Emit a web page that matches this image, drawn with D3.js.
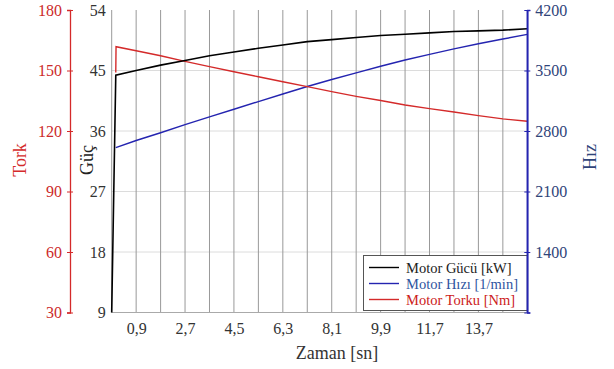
<!DOCTYPE html>
<html><head><meta charset="utf-8">
<script src="https://cdn.jsdelivr.net/npm/d3@7"></script>
</head><body style="margin:0;background:#fff">
<script>
// Data
const time      = [0, 0.15, 0.9, 1.8, 2.7, 3.6, 4.5, 5.4, 6.3, 7.2, 8.1, 9.0, 9.9, 10.8, 11.7, 12.6, 13.5, 14.4, 15.3];
const power     = [9, 44.3, 45.0, 45.8, 46.5, 47.2, 47.75, 48.3, 48.8, 49.3, 49.6, 49.9, 50.2, 50.4, 50.6, 50.8, 50.9, 51.0, 51.2];
const timeS     = [0.15, 0.9, 1.8, 2.7, 3.6, 4.5, 5.4, 6.3, 7.2, 8.1, 9.0, 9.9, 10.8, 11.7, 12.6, 13.5, 14.4, 15.3];
const speed     = [2607, 2690, 2780, 2874, 2963, 3052, 3140, 3228, 3315, 3396, 3473, 3549, 3621, 3687, 3750, 3809, 3864, 3918];
const timeT     = [0.15, 0.16, 0.9, 1.8, 2.7, 3.6, 4.5, 5.4, 6.3, 7.2, 8.1, 9.0, 9.9, 10.8, 11.7, 12.6, 13.5, 14.4, 15.3];
const torque    = [149, 161.8, 159.8, 157.3, 154.5, 151.9, 149.4, 146.9, 144.4, 142.0, 139.5, 137.2, 135.1, 132.9, 131.1, 129.4, 127.6, 126.0, 124.8];
const xTickVals   = [0.9, 2.7, 4.5, 6.3, 8.1, 9.9, 11.7, 13.5];
const xTickLabels = ["0,9", "2,7", "4,5", "6,3", "8,1", "9,9", "11,7", "13,7"];
const xGrid       = [0.9, 1.8, 2.7, 3.6, 4.5, 5.4, 6.3, 7.2, 8.1, 9.0, 9.9, 10.8, 11.7, 12.6, 13.5, 14.4];
const powerTicks  = [9, 18, 27, 36, 45, 54];
const torqueTicks = [30, 60, 90, 120, 150, 180];
const speedTicks  = [700, 1400, 2100, 2800, 3500, 4200];
const seriesNames = ["Motor Gücü [kW]", "Motor Hızı [1/min]", "Motor Torku [Nm]"];

const W = 614, H = 369;
const L = 111.7, R = 527.3, T = 10, B = 312.5;
const cRed = "#d42a2a", cBlue = "#2424b0", cBlueText = "#2f4479", cRedText = "#cc2a2a";

const svg = d3.select("body").append("svg").attr("width", W).attr("height", H)
  .attr("font-family", "Liberation Serif").style("display", "block");
const x = d3.scaleLinear().domain([0, 15.3]).range([L, R]);
const yP = d3.scaleLinear().domain([9, 54]).range([B, T]);
const yT = d3.scaleLinear().domain([30, 180]).range([B, T]);
const yS = d3.scaleLinear().domain([700, 4200]).range([B, T]);

// horizontal grid
svg.append("g").selectAll("line").data(powerTicks.slice(1, -1)).join("line")
  .attr("x1", L).attr("x2", R).attr("y1", d => yP(d)).attr("y2", d => yP(d))
  .attr("stroke", "#dcdcdc").attr("stroke-width", 1);
// vertical grid
svg.append("g").selectAll("line").data(xGrid).join("line")
  .attr("x1", d => x(d)).attr("x2", d => x(d)).attr("y1", T).attr("y2", B)
  .attr("stroke", "#999").attr("stroke-width", 1);
// left/bottom frame
svg.append("line").attr("x1", L).attr("x2", L).attr("y1", T).attr("y2", B).attr("stroke", "#999");
svg.append("line").attr("x1", L).attr("x2", R).attr("y1", B).attr("y2", B).attr("stroke", "#aaa");

function styleText(g, color) {
  g.attr("font-family", "Liberation Serif");
  g.selectAll("text").attr("font-size", 16).attr("fill", color).attr("font-family", "Liberation Serif");
}
// x axis labels
const xAx = svg.append("g").attr("transform", `translate(0,${B})`)
  .call(d3.axisBottom(x).tickValues(xTickVals).tickFormat((d, i) => xTickLabels[i]).tickSize(0).tickPadding(10));
xAx.select(".domain").remove();
styleText(xAx, "#333");

// Güç axis (labels only)
const pAx = svg.append("g").attr("transform", `translate(${L},0)`)
  .call(d3.axisLeft(yP).tickValues(powerTicks).tickSize(0).tickPadding(6));
pAx.select(".domain").remove();
styleText(pAx, "#333");

// Tork axis
const tAx = svg.append("g").attr("transform", `translate(70,0)`)
  .call(d3.axisLeft(yT).tickValues(torqueTicks).tickSizeOuter(0).tickSize(3).tickPadding(5));
tAx.select(".domain").attr("stroke", cRed).attr("stroke-width", 1.3);
tAx.selectAll(".tick line").attr("stroke", cRed).attr("x1", 3).attr("x2", -3);
styleText(tAx, cRedText);

// Hız axis
const sAx = svg.append("g").attr("transform", `translate(${R},0)`)
  .call(d3.axisRight(yS).tickValues(speedTicks).tickFormat(d => d === 700 ? "" : d).tickSizeOuter(0).tickSize(3).tickPadding(5));
sAx.select(".domain").attr("stroke", cBlue).attr("stroke-width", 1.5);
sAx.selectAll(".tick line").attr("stroke", cBlue).attr("x1", -3).attr("x2", 3);
styleText(sAx, cBlueText);

// lines
const mk = (tArr, ys) => d3.line().x((d, i) => x(tArr[i])).y(d => ys(d));
svg.append("path").attr("d", mk(timeS, yS)(speed)).attr("fill", "none").attr("stroke", cBlue).attr("stroke-width", 1.4);
svg.append("path").attr("d", mk(timeT, yT)(torque)).attr("fill", "none").attr("stroke", cRed).attr("stroke-width", 1.4);
svg.append("path").attr("d", mk(time, yP)(power)).attr("fill", "none").attr("stroke", "#000").attr("stroke-width", 1.6);

// axis titles
svg.append("text").attr("transform", "translate(26,160) rotate(-90)").attr("text-anchor", "middle")
  .attr("font-size", 18).attr("fill", cRed).text("Tork");
svg.append("text").attr("transform", "translate(93,160) rotate(-90)").attr("text-anchor", "middle")
  .attr("font-size", 18).attr("fill", "#222").text("Güç");
svg.append("text").attr("transform", "translate(596,157) rotate(-90)").attr("text-anchor", "middle")
  .attr("font-size", 18).attr("fill", cBlueText).text("Hız");
svg.append("text").attr("x", 337).attr("y", 359).attr("text-anchor", "middle")
  .attr("font-size", 18).attr("fill", "#333").text("Zaman [sn]");

// legend
const lg = svg.append("g");
lg.append("rect").attr("x", 363.5).attr("y", 255.5).attr("width", R - 363.5).attr("height", 55)
  .attr("fill", "#fff").attr("stroke", "#555").attr("stroke-width", 1);
const lcol = ["#000", cBlue, cRed], tcol = ["#222", "#2f55a0", "#cc2020"];
seriesNames.forEach((n, i) => {
  const yy = 267.5 + i * 16;
  lg.append("line").attr("x1", 369).attr("x2", 399).attr("y1", yy).attr("y2", yy).attr("stroke", lcol[i]).attr("stroke-width", 1.4);
  lg.append("text").attr("x", 406).attr("y", yy + 5).attr("font-size", 14.5).attr("fill", tcol[i]).text(n);
});
// blue axis line over legend
svg.append("line").attr("x1", R).attr("x2", R).attr("y1", T).attr("y2", B).attr("stroke", cBlue).attr("stroke-width", 1.5);
</script>
</body></html>
